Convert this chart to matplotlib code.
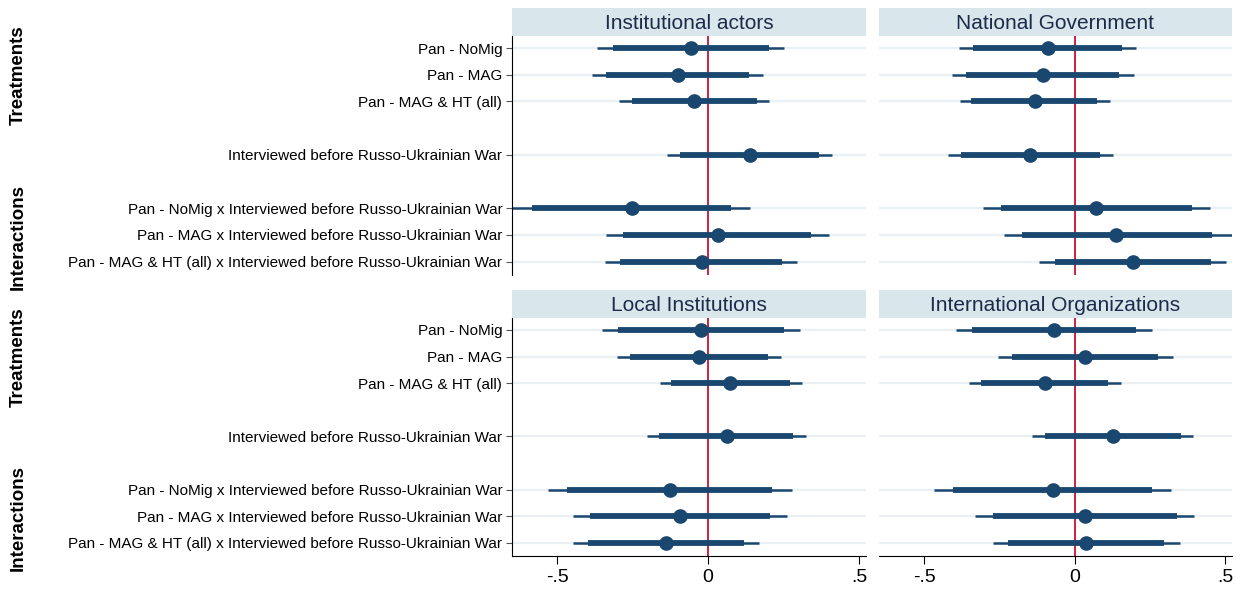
"""Coefficient plot: four actor panels, treatments and interactions."""

import matplotlib
matplotlib.use("Agg")
import matplotlib.pyplot as plt

plt.rcParams['font.family'] = ['Liberation Sans', 'DejaVu Sans']

# Row labels (top to bottom) and their positions on the y axis
labels = [
    "Pan - NoMig",
    "Pan - MAG",
    "Pan - MAG & HT (all)",
    "Interviewed before Russo-Ukrainian War",
    "Pan - NoMig x Interviewed before Russo-Ukrainian War",
    "Pan - MAG x Interviewed before Russo-Ukrainian War",
    "Pan - MAG & HT (all) x Interviewed before Russo-Ukrainian War",
]
rows = [0, 1, 2, 4, 6, 7, 8]

panels = ["Institutional actors", "National Government",
          "Local Institutions", "International Organizations"]

# point estimates
coef_inst = [-0.057, -0.100, -0.046, 0.137, -0.253, 0.031, -0.022]
coef_natl = [-0.088, -0.106, -0.133, -0.147, 0.072, 0.139, 0.193]
coef_local = [-0.025, -0.031, 0.074, 0.061, -0.127, -0.093, -0.139]
coef_intl = [-0.068, 0.036, -0.098, 0.127, -0.073, 0.034, 0.039]

# 90% intervals (thick)
lo90_inst = [-0.316, -0.340, -0.254, -0.093, -0.584, -0.281, -0.291]
hi90_inst = [0.202, 0.136, 0.161, 0.368, 0.075, 0.341, 0.245]
lo90_natl = [-0.338, -0.361, -0.344, -0.377, -0.245, -0.174, -0.066]
hi90_natl = [0.159, 0.149, 0.076, 0.086, 0.390, 0.456, 0.453]
lo90_local = [-0.298, -0.258, -0.123, -0.162, -0.467, -0.391, -0.397]
hi90_local = [0.251, 0.198, 0.270, 0.281, 0.212, 0.205, 0.118]
lo90_intl = [-0.342, -0.208, -0.311, -0.099, -0.403, -0.271, -0.222]
hi90_intl = [0.204, 0.278, 0.112, 0.353, 0.258, 0.341, 0.297]

# 95% intervals (thin)
lo95_inst = [-0.367, -0.384, -0.294, -0.137, -0.650, -0.340, -0.341]
hi95_inst = [0.252, 0.181, 0.201, 0.411, 0.139, 0.401, 0.294]
lo95_natl = [-0.384, -0.407, -0.382, -0.422, -0.306, -0.234, -0.117]
hi95_natl = [0.205, 0.199, 0.117, 0.128, 0.450, 0.523, 0.503]
lo95_local = [-0.351, -0.301, -0.161, -0.202, -0.532, -0.447, -0.447]
hi95_local = [0.303, 0.241, 0.310, 0.324, 0.277, 0.262, 0.168]
lo95_intl = [-0.394, -0.254, -0.350, -0.142, -0.467, -0.330, -0.271]
hi95_intl = [0.258, 0.326, 0.155, 0.395, 0.320, 0.398, 0.351]

coefs = [coef_inst, coef_natl, coef_local, coef_intl]
lo90 = [lo90_inst, lo90_natl, lo90_local, lo90_intl]
hi90 = [hi90_inst, hi90_natl, hi90_local, hi90_intl]
lo95 = [lo95_inst, lo95_natl, lo95_local, lo95_intl]
hi95 = [hi95_inst, hi95_natl, hi95_local, hi95_intl]

xticks = [-0.5, 0, 0.5]
xticklabels = ["-.5", "0", ".5"]

NAVY = "#1a476f"
RED = "#c8102e"
BAR = "#d9e6eb"
GRID = "#eaf0f3"

W, H = 1247, 592
fig = plt.figure(figsize=(W / 100, H / 100), dpi=100)


def fx(px):
    return px / W


def fy(py):
    return 1 - py / H


# pixel boxes for each panel: (left, right, plot top, plot bottom, bar top)
cols = [(512, 866), (879, 1232)]
rows_px = [(36, 275, 8), (318, 556, 290)]

for i, name in enumerate(panels):
    r, c = divmod(i, 2)
    x0, x1 = cols[c]
    top, bot, bar_top = rows_px[r]

    # title strip
    tax = fig.add_axes([fx(x0), fy(top), fx(x1 - x0), fy(bar_top) - fy(top)])
    tax.set_facecolor(BAR)
    tax.set_xticks([])
    tax.set_yticks([])
    for s in tax.spines.values():
        s.set_visible(False)
    tax.text(0.5, 0.45, name, ha="center", va="center", fontsize=15,
             color="#1c2b4a", transform=tax.transAxes)

    ax = fig.add_axes([fx(x0), fy(bot), fx(x1 - x0), fy(top) - fy(bot)])
    for y in rows:
        ax.axhline(y, color=GRID, lw=1.6, zorder=0)
    ax.axvline(0, color=RED, lw=1.3, zorder=1)
    ax.hlines(rows, lo95[i], hi95[i], color=NAVY, lw=1.8, zorder=2)
    ax.hlines(rows, lo90[i], hi90[i], color=NAVY, lw=4.2, zorder=3)
    ax.plot(coefs[i], rows, "o", color=NAVY, ms=9.5, zorder=4)

    ax.set_xlim(-0.65, 0.523)
    ax.set_ylim(8.5, -0.45)
    for s in ["top", "right"]:
        ax.spines[s].set_visible(False)

    if c == 0:
        ax.set_yticks(rows)
        ax.set_yticklabels(labels, fontsize=11)
        ax.tick_params(axis="y", length=4, color="#555555", pad=3)
    else:
        ax.spines["left"].set_visible(False)
        ax.set_yticks([])

    if r == 1:
        ax.set_xticks(xticks)
        ax.set_xticklabels(xticklabels, fontsize=14)
        ax.tick_params(axis="x", length=6, pad=3)
    else:
        ax.spines["bottom"].set_visible(False)
        ax.set_xticks([])

# group labels on the far left
for top, bot, _ in rows_px:
    span = bot - top
    fig.text(fx(18), fy(top + span * 0.165), "Treatments", rotation=90,
             ha="center", va="center", fontsize=13.5, fontweight="bold")
    fig.text(fx(18), fy(top + span * 0.84), "Interactions", rotation=90,
             ha="center", va="center", fontsize=13.5, fontweight="bold")

fig.savefig("out.png", dpi=100, facecolor="white")
